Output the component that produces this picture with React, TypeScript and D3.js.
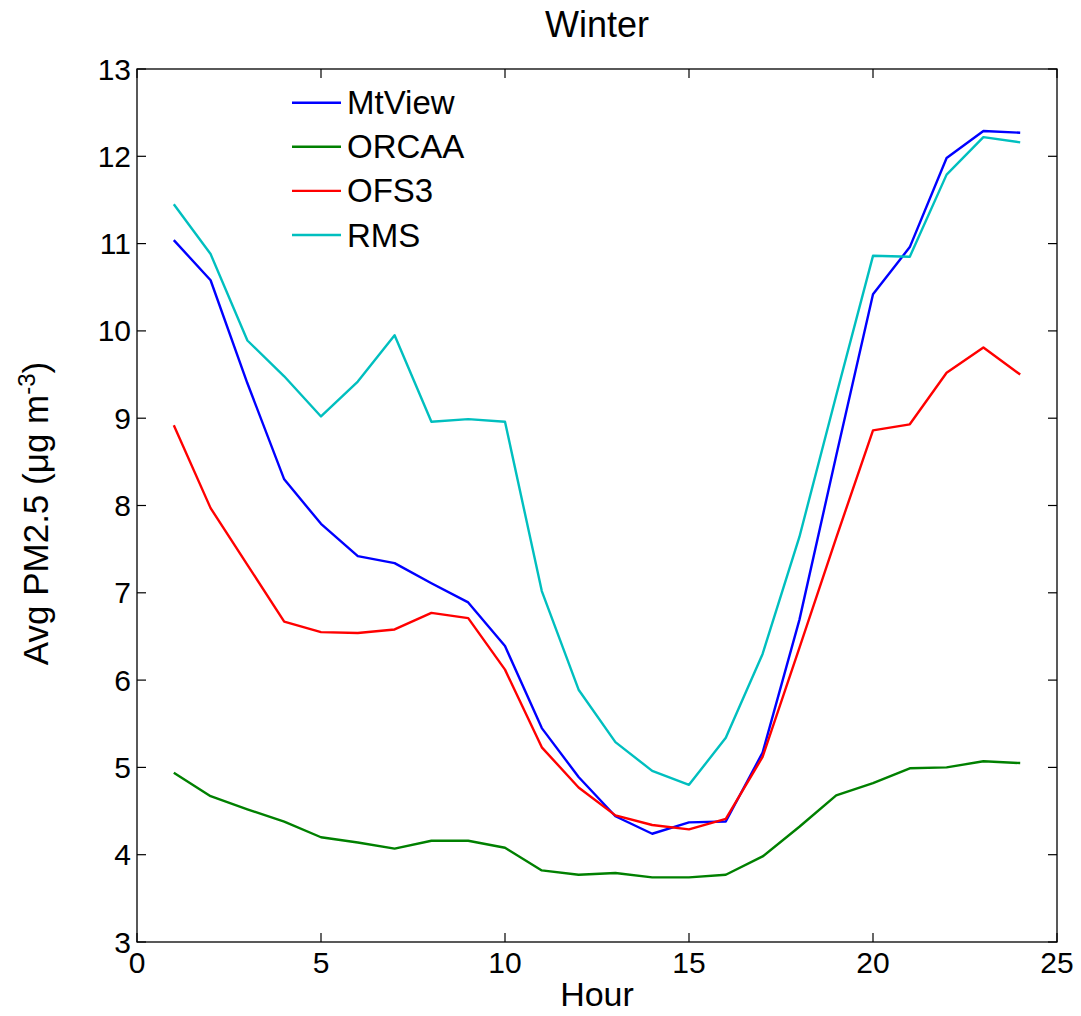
import React from "react";
import * as d3 from "d3";

const hours = d3.range(1, 25);
const mtView = [11.04, 10.58, 9.40, 8.30, 7.79, 7.42, 7.34, 7.11, 6.89, 6.39, 5.45, 4.89, 4.44, 4.24, 4.37, 4.38, 5.17, 6.69, 8.57, 10.42, 10.96, 11.98, 12.29, 12.27];
const orcaa = [4.94, 4.67, 4.52, 4.38, 4.20, 4.14, 4.07, 4.16, 4.16, 4.08, 3.82, 3.77, 3.79, 3.74, 3.74, 3.77, 3.98, 4.32, 4.68, 4.82, 4.99, 5.00, 5.07, 5.05];
const ofs3 = [8.92, 7.97, 7.32, 6.67, 6.55, 6.54, 6.58, 6.77, 6.71, 6.12, 5.23, 4.77, 4.45, 4.34, 4.29, 4.41, 5.12, 6.37, 7.63, 8.86, 8.93, 9.52, 9.81, 9.50];
const rms = [11.45, 10.88, 9.89, 9.48, 9.02, 9.42, 9.95, 8.96, 8.99, 8.96, 7.02, 5.89, 5.29, 4.96, 4.80, 5.34, 6.30, 7.64, 9.26, 10.86, 10.85, 11.79, 12.22, 12.16];

const seriesNames = ["MtView", "ORCAA", "OFS3", "RMS"];
const seriesColors = ["#0000ff", "#008000", "#ff0000", "#00bfbf"];
const seriesValues = [mtView, orcaa, ofs3, rms];

const xTicks = [0, 5, 10, 15, 20, 25];
const yTicks = [3, 4, 5, 6, 7, 8, 9, 10, 11, 12, 13];

const W = 1081;
const H = 1016;
const L = 137, R = 1057, T = 69, B = 942;
const FONT = "'Liberation Sans', Arial, Helvetica, sans-serif";

export default function App() {
  const x = d3.scaleLinear().domain([0, 25]).range([L, R]);
  const y = d3.scaleLinear().domain([3, 13]).range([B, T]);
  const line = d3
    .line<number>()
    .x((_, i) => x(hours[i]))
    .y((d) => y(d));
  const tl = 9;

  return (
    <svg
      width={W}
      height={H}
      style={{ position: "absolute", left: 0, top: 0, background: "#fff" }}
      fontFamily={FONT}
    >
      <rect x={0} y={0} width={W} height={H} fill="#fff" />
      {seriesValues.map((vals, si) => (
        <path
          key={seriesNames[si]}
          d={line(vals) || ""}
          fill="none"
          stroke={seriesColors[si]}
          strokeWidth={2.4}
          strokeLinejoin="round"
        />
      ))}
      <rect x={L} y={T} width={R - L} height={B - T} fill="none" stroke="#000" strokeWidth={1.3} />
      {xTicks.map((t) => (
        <g key={"x" + t}>
          <line x1={x(t)} x2={x(t)} y1={B} y2={B - tl} stroke="#000" strokeWidth={1.2} />
          <line x1={x(t)} x2={x(t)} y1={T} y2={T + tl} stroke="#000" strokeWidth={1.2} />
          <text x={x(t)} y={973} textAnchor="middle" fontSize={30} fill="#000">
            {t}
          </text>
        </g>
      ))}
      {yTicks.map((t) => (
        <g key={"y" + t}>
          <line x1={L} x2={L + tl} y1={y(t)} y2={y(t)} stroke="#000" strokeWidth={1.2} />
          <line x1={R} x2={R - tl} y1={y(t)} y2={y(t)} stroke="#000" strokeWidth={1.2} />
          <text x={131} y={y(t) + 10.5} textAnchor="end" fontSize={30} fill="#000">
            {t}
          </text>
        </g>
      ))}
      <text x={(L + R) / 2} y={37} textAnchor="middle" fontSize={36} fill="#000">
        Winter
      </text>
      <text x={(L + R) / 2} y={1006} textAnchor="middle" fontSize={34} fill="#000">
        Hour
      </text>
      <text
        transform={`translate(48, ${(T + B) / 2 + 8}) rotate(-90)`}
        textAnchor="middle"
        fontSize={35}
        fill="#000"
      >
        Avg PM2.5 (μg m
        <tspan dy={-13} fontSize={24}>-3</tspan>
        <tspan dy={13}>)</tspan>
      </text>
      {seriesNames.map((name, i) => {
        const ly = 102.7 + i * 44.1;
        return (
          <g key={"lg" + name}>
            <line x1={292} x2={341} y1={ly} y2={ly} stroke={seriesColors[i]} strokeWidth={2.4} />
            <text x={347} y={ly + 11.5} fontSize={33} fill="#000">
              {name}
            </text>
          </g>
        );
      })}
    </svg>
  );
}
